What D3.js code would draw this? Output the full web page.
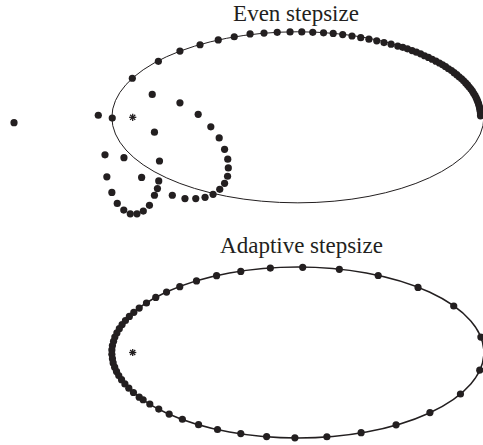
<!DOCTYPE html>
<html>
<head>
<meta charset="utf-8">
<script src="https://cdn.jsdelivr.net/npm/d3@7"></script>
<style>
  body { margin: 0; background: #fff; }
  svg { display: block; }
</style>
</head>
<body>
<script>
// orbit: semi-major axis 1, sun at the origin (focus)
var semiMajor = 1,
    eccentricity = 0.888;

var titles = ["Even stepsize", "Adaptive stepsize"];

// even stepsize: points that stay on the orbit (aphelion side, dense near the start)
var evenOrbit = [
  [-0.002,0.210],[0.138,0.301],[0.254,0.356],[0.362,0.390],[0.460,0.416],
  [0.546,0.433],[0.631,0.448],[0.706,0.453],[0.777,0.457],[0.846,0.459],
  [0.909,0.459],[0.968,0.457],[1.026,0.454],[1.078,0.451],[1.129,0.445],
  [1.179,0.437],[1.226,0.428],[1.270,0.420],[1.312,0.411],[1.351,0.402],
  [1.389,0.393],[1.425,0.383],[1.452,0.376],[1.477,0.368],[1.502,0.359],
  [1.525,0.350],[1.548,0.341],[1.569,0.331],[1.590,0.322],[1.610,0.312],
  [1.630,0.302],[1.649,0.292],[1.666,0.282],[1.682,0.272],[1.698,0.261],
  [1.714,0.251],[1.728,0.240],[1.742,0.229],[1.755,0.218],[1.768,0.207],
  [1.779,0.196],[1.790,0.185],[1.800,0.174],[1.809,0.163],[1.818,0.152],
  [1.826,0.141],[1.833,0.129],[1.840,0.118],[1.846,0.106],[1.851,0.095],
  [1.855,0.085],[1.859,0.074],[1.862,0.063],[1.865,0.052],[1.867,0.041],
  [1.869,0.030],[1.870,0.019],[1.870,0.008]
];

// even stepsize: points after the perihelion pass drift off the orbit
var evenDrift = [
  [-0.638,-0.029],[-0.185,0.011],[-0.110,-0.004],[0.105,0.123],[0.254,0.078],
  [0.352,0.016],[0.420,-0.051],[0.465,-0.111],[0.494,-0.172],[0.511,-0.225],
  [0.514,-0.272],[0.510,-0.317],[0.494,-0.355],[0.468,-0.387],[0.432,-0.414],
  [0.389,-0.430],[0.339,-0.437],[0.281,-0.437],[0.213,-0.419],[0.144,-0.235],
  [0.140,-0.342],[0.133,-0.383],[0.117,-0.419],[0.090,-0.473],[0.057,-0.504],
  [0.023,-0.519],[-0.013,-0.519],[-0.048,-0.499],[-0.083,-0.463],[-0.112,-0.404],
  [-0.139,-0.320],[-0.149,-0.202],[-0.047,-0.217],[0.048,-0.323],[0.117,-0.080]
];

// adaptive stepsize: all points on the orbit
var adaptivePoints = [
  [1.872,0.083],[1.726,0.250],[1.534,0.350],[1.320,0.414],[1.111,0.447],
  [0.914,0.458],[0.740,0.454],[0.581,0.436],[0.451,0.413],[0.343,0.385],
  [0.253,0.354],[0.182,0.325],[0.124,0.296],[0.074,0.266],[0.035,0.239],
  [0.006,0.216],[-0.018,0.194],[-0.039,0.172],[-0.057,0.150],[-0.072,0.128],
  [-0.085,0.105],[-0.096,0.083],[-0.103,0.060],[-0.109,0.037],[-0.112,0.014],
  [-0.112,-0.010],[-0.109,-0.033],[-0.105,-0.056],[-0.097,-0.079],[-0.087,-0.102],
  [-0.075,-0.124],[-0.060,-0.146],[-0.042,-0.169],[-0.021,-0.192],[0.004,-0.215],
  [0.035,-0.240],[0.056,-0.254],[0.092,-0.277],[0.140,-0.304],[0.196,-0.331],
  [0.267,-0.359],[0.354,-0.388],[0.456,-0.414],[0.581,-0.436],[0.720,-0.452],
  [0.872,-0.459],[1.044,-0.453],[1.228,-0.431],[1.416,-0.389],[1.598,-0.323],
  [1.762,-0.223],[1.866,-0.095]
];

const width = 483;
const height = 445;
const ink = "#231f20";

var svg = d3.select("body")
    .append("svg")
    .attr("width", width)
    .attr("height", height);

var x = d3.scaleLinear().domain([0, 1]).range([132.7, 318.7]);
var yTop = d3.scaleLinear().domain([0, 1]).range([117.3, -68.7]);
var yBot = d3.scaleLinear().domain([0, 1]).range([352.5, 166.5]);

var semiMinor = semiMajor * Math.sqrt(1 - eccentricity * eccentricity);

function drawPanel(g, y, title, titleX, titleY, lineWidth, sets) {
    g.append("text")
        .attr("x", titleX)
        .attr("y", titleY)
        .attr("text-anchor", "middle")
        .style("font-family", "'Liberation Serif', 'Times New Roman', serif")
        .style("font-size", "23px")
        .style("fill", ink)
        .text(title);

    g.append("ellipse")
        .attr("cx", x(semiMajor * eccentricity))
        .attr("cy", y(0))
        .attr("rx", x(semiMajor) - x(0))
        .attr("ry", y(0) - y(semiMinor))
        .style("fill", "none")
        .style("stroke", ink)
        .style("stroke-width", lineWidth);

    sets.forEach(function(pts){
        g.append("g").selectAll("circle")
            .data(pts)
            .enter()
            .append("circle")
            .attr("cx", function(d){return x(d[0])})
            .attr("cy", function(d){return y(d[1])})
            .attr("r", 3.6)
            .style("fill", ink);
    });

    // sun marker
    var s = 3.6;
    var star = g.append("g")
        .attr("transform", "translate(" + x(0) + "," + y(0) + ")")
        .style("stroke", ink)
        .style("stroke-width", 1.3);
    [0, 45, 90, 135].forEach(function(a){
        var r = a * Math.PI / 180;
        star.append("line")
            .attr("x1", -s * Math.cos(r)).attr("y1", -s * Math.sin(r))
            .attr("x2", s * Math.cos(r)).attr("y2", s * Math.sin(r));
    });
}

drawPanel(svg.append("g"), yTop, titles[0], 296, 21, 1, [evenOrbit, evenDrift]);
drawPanel(svg.append("g"), yBot, titles[1], 301.5, 253.3, 1.5, [adaptivePoints]);
</script>
</body>
</html>
